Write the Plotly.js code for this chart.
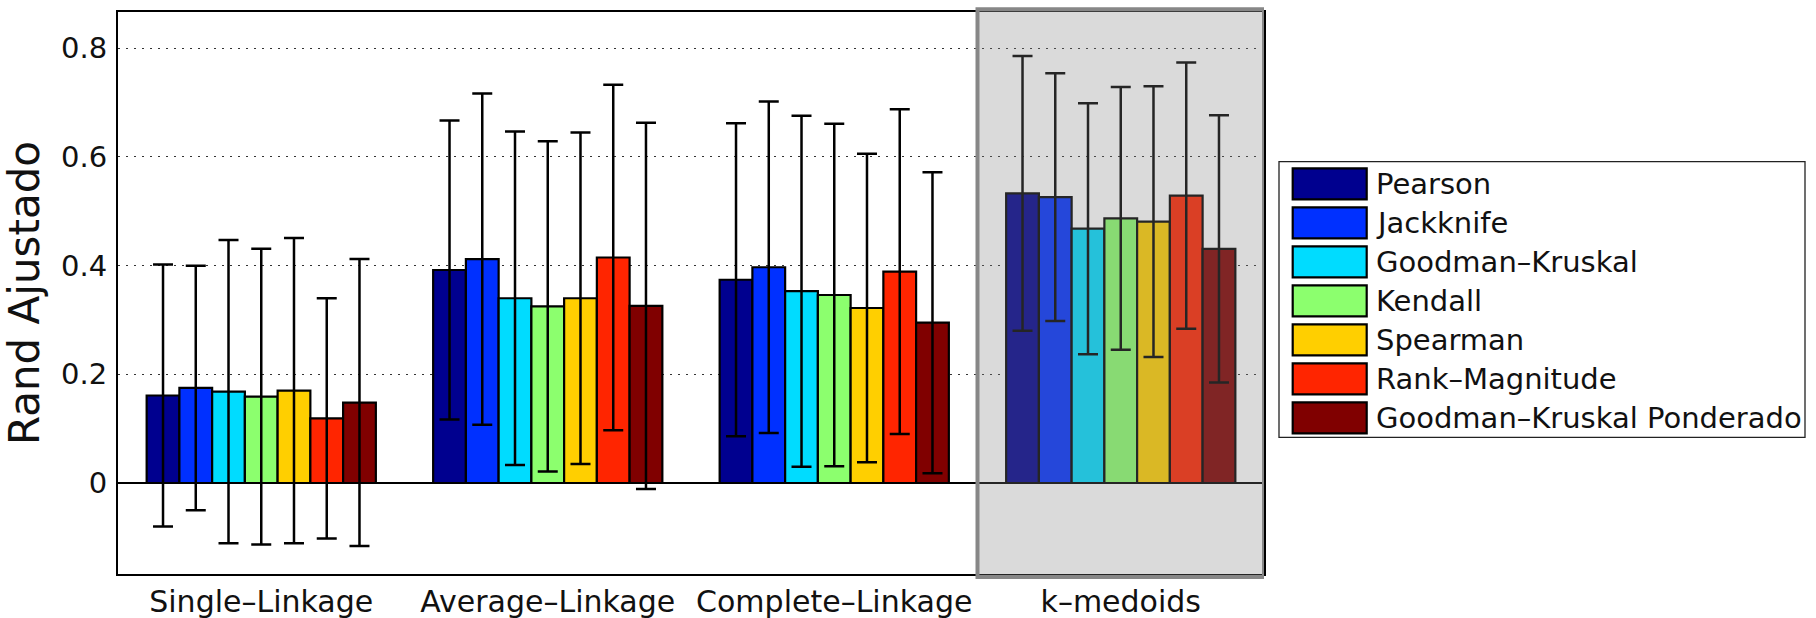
<!DOCTYPE html>
<html><head><meta charset="utf-8">
<script src="https://cdn.plot.ly/plotly-3.0.1.min.js"></script>
<style>html,body{margin:0;padding:0;background:#fff;} #chart{width:1816px;height:618px;}</style>
</head><body><div id="chart"></div>
<script>
// ---- data ----
const groups = ['Single–Linkage', 'Average–Linkage', 'Complete–Linkage', 'k–medoids'];
const methods = ['Pearson', 'Jackknife', 'Goodman–Kruskal', 'Kendall', 'Spearman', 'Rank–Magnitude', 'Goodman–Kruskal Ponderado'];

const pearsonMean   = [0.161, 0.392, 0.374, 0.533];
const pearsonStd    = [0.241, 0.275, 0.288, 0.253];
const jackknifeMean = [0.175, 0.412, 0.397, 0.526];
const jackknifeStd  = [0.225, 0.305, 0.305, 0.228];
const gkMean        = [0.168, 0.340, 0.353, 0.468];
const gkStd         = [0.279, 0.307, 0.323, 0.231];
const kendallMean   = [0.159, 0.325, 0.346, 0.487];
const kendallStd    = [0.272, 0.304, 0.315, 0.242];
const spearmanMean  = [0.170, 0.340, 0.322, 0.481];
const spearmanStd   = [0.281, 0.305, 0.284, 0.249];
const rankMagMean   = [0.119, 0.415, 0.389, 0.529];
const rankMagStd    = [0.221, 0.318, 0.299, 0.245];
const gkpMean       = [0.148, 0.326, 0.295, 0.431];
const gkpStd        = [0.264, 0.337, 0.277, 0.246];

const yTicks = [0, 0.2, 0.4, 0.6, 0.8];
const highlightedGroup = 'k–medoids';

// ---- styling ----
const colors = ['#00008f', '#0030ff', '#00dcff', '#8cff6e', '#ffcf00', '#ff2500', '#800000'];
const means = [pearsonMean, jackknifeMean, gkMean, kendallMean, spearmanMean, rankMagMean, gkpMean];
const stds  = [pearsonStd, jackknifeStd, gkStd, kendallStd, spearmanStd, rankMagStd, gkpStd];
const FONT = 'DejaVu Sans, Arial, sans-serif';
const W = 1816, H = 618;
const PL = 118, PR = 1264, PT = 12, PB = 574;
const px2x = p => (p - PL) / (PR - PL);
const py2y = p => (PB - p) / (PB - PT);

const traces = methods.map((name, i) => ({
  type: 'bar',
  name: name,
  x: groups,
  y: means[i],
  marker: { color: colors[i], line: { color: '#000', width: 2.2 } },
  error_y: { type: 'data', array: stds[i], visible: true, color: '#000', thickness: 2.5, width: 10 },
  showlegend: false,
  hoverinfo: 'x+y+name'
}));

const hi = groups.indexOf(highlightedGroup);
const shapes = [{
  type: 'rect', xref: 'x', yref: 'paper', layer: 'above',
  x0: hi - 0.5, x1: hi + 0.5, y0: py2y(577), y1: py2y(9.3),
  fillcolor: 'rgba(128,128,128,0.29)',
  line: { color: '#878787', width: 4 }
}, {
  type: 'rect', xref: 'paper', yref: 'paper', layer: 'above',
  x0: px2x(1279), x1: px2x(1805), y0: py2y(437.3), y1: py2y(161.7),
  fillcolor: '#ffffff', line: { color: '#222', width: 1.3 }
}];
const annotations = [];
methods.forEach((name, i) => {
  const top = 168.3 + 39 * i;
  shapes.push({
    type: 'rect', xref: 'paper', yref: 'paper', layer: 'above',
    x0: px2x(1292.7), x1: px2x(1366.7), y0: py2y(top + 31), y1: py2y(top),
    fillcolor: colors[i], line: { color: '#000', width: 2.2 }
  });
  annotations.push({
    xref: 'paper', yref: 'paper', x: px2x(1374), y: py2y(top + 16),
    xanchor: 'left', yanchor: 'middle', showarrow: false, text: name,
    font: { family: FONT, size: 29, color: '#111' }
  });
});

const layout = {
  width: W, height: H,
  margin: { l: PL, r: W - PR, t: PT, b: H - PB, pad: 0 },
  paper_bgcolor: '#fff', plot_bgcolor: '#fff',
  barmode: 'group', bargap: 0.2, bargroupgap: 0,
  showlegend: false,
  xaxis: {
    type: 'category', range: [-0.5, groups.length - 0.5],
    showline: true, linecolor: '#000', linewidth: 2, mirror: true,
    ticks: '', showgrid: false, zeroline: false,
    tickfont: { family: FONT, size: 30, color: '#111' },
    ticklabelstandoff: 0
  },
  yaxis: {
    range: [-0.1675, 0.8668], tickvals: yTicks,
    showline: true, linecolor: '#000', linewidth: 2, mirror: true,
    ticks: '', showgrid: true, gridcolor: '#333', gridwidth: 1, griddash: '2px,6px',
    zeroline: true, zerolinecolor: '#000', zerolinewidth: 1.5,
    tickfont: { family: FONT, size: 29, color: '#111' },
    ticklabelstandoff: 3,
    title: { text: 'Rand Ajustado', font: { family: FONT, size: 42, color: '#111' }, standoff: 8 }
  },
  shapes: shapes,
  annotations: annotations
};

Plotly.newPlot('chart', traces, layout, { displayModeBar: false, staticPlot: true });
</script>
</body></html>
